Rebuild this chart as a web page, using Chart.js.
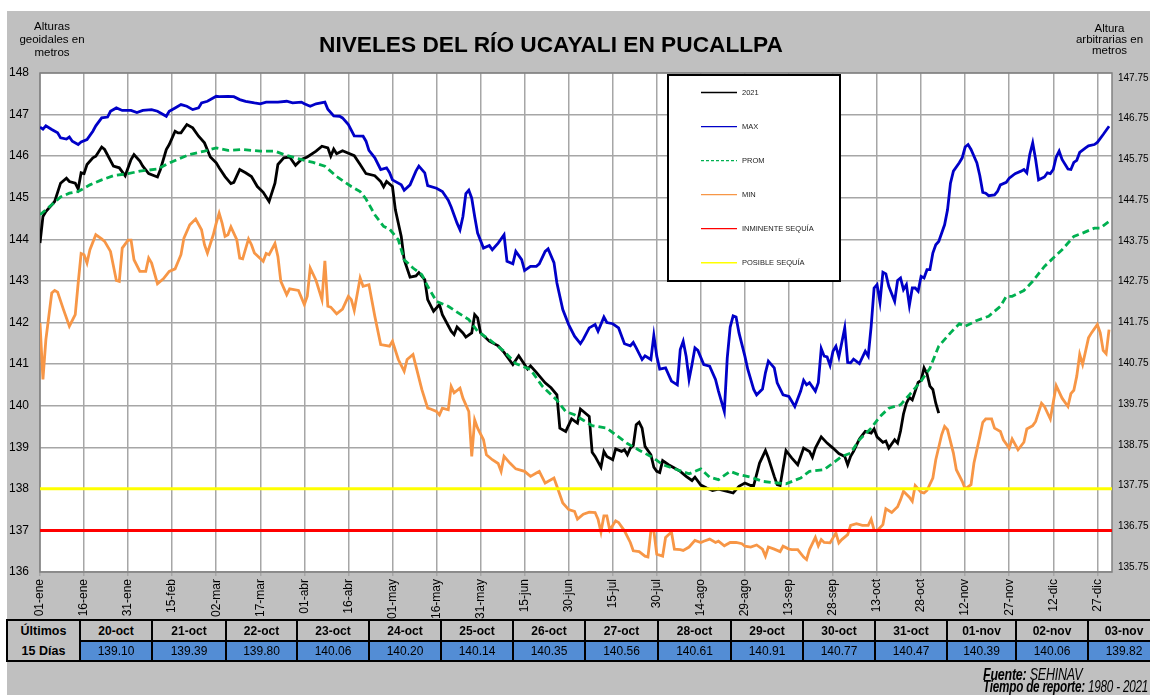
<!DOCTYPE html>
<html><head><meta charset="utf-8">
<script src="https://cdn.jsdelivr.net/npm/chart.js@4.4.1/dist/chart.umd.min.js"></script>
<style>
html,body{margin:0;padding:0;width:1150px;height:695px;overflow:hidden;background:#fff;font-family:"Liberation Sans",Arial,Helvetica,sans-serif;color:#000}
#panel{position:absolute;left:7px;top:11px;width:1143px;height:684px;background:#c0c0c0}
#chart{position:absolute;left:0;top:0}
.txt{position:absolute;white-space:nowrap}
#title{left:0;width:1102px;top:30.6px;text-align:center;font-weight:bold;font-size:22.7px;line-height:26px}
#ylabL{left:2px;width:100px;top:20.4px;text-align:center;font-size:11.5px;line-height:12.7px}
#ylabR{left:1059.5px;width:100px;top:22.8px;text-align:center;font-size:11.5px;line-height:11px}
.cell{position:absolute;box-sizing:border-box;border:2px solid #000;display:flex;align-items:center;justify-content:center;font-size:12px;white-space:nowrap;overflow:hidden}
.hdr{background:#c0c0c0;font-weight:bold}
.val{background:#538dd5}
.first{background:#c0c0c0;font-weight:bold;flex-direction:column;line-height:20px;font-size:12.5px}
.foot{position:absolute;left:983px;font-size:17px;font-style:italic;line-height:12.6px;transform-origin:0 50%;white-space:nowrap;letter-spacing:-0.3px}
</style></head>
<body>
<div id="panel"></div>
<canvas id="chart" width="1150" height="695"></canvas>
<div id="title" class="txt">NIVELES DEL RÍO UCAYALI EN PUCALLPA</div>
<div id="ylabL" class="txt">Alturas<br>geoidales en<br>metros</div>
<div id="ylabR" class="txt">Altura<br>arbitrarias en<br>metros</div>
<div id="table"></div>
<div id="foot1" class="foot" style="top:668.5px"><b>Fuente:</b> SEHINAV</div>
<div id="foot2" class="foot" style="top:681.1px"><b>Tiempo de reporte:</b> 1980 - 2021</div>
<script>
// ---------- DATA ----------
const tickDays = [0,15,30,45,60,75,90,105,120,135,150,165,180,195,210,225,240,255,270,285,300,315,330,345,360];
const tickLabels = ['01-ene','16-ene','31-ene','15-feb','02-mar','17-mar','01-abr','16-abr','01-may','16-may','31-may','15-jun','30-jun','15-jul','30-jul','14-ago','29-ago','13-sep','28-sep','13-oct','28-oct','12-nov','27-nov','12-dic','27-dic'];
const rightTicks = [135.75,136.75,137.75,138.75,139.75,140.75,141.75,142.75,143.75,144.75,145.75,146.75,147.75];

const series2021 = [[0,143.91],[1,144.55],[2,144.67],[5,144.91],[7,145.35],[9,145.47],[10,145.39],[12,145.35],[13,145.21],[14,145.60],
[15,145.58],[16,145.80],[18,145.96],[19,146.00],[21,146.22],[22,146.16],[25,145.76],[27,145.72],[29,145.53],[31,145.92],
[32,146.04],[34,145.88],[35,145.76],[37,145.58],[40,145.50],[41,145.68],[43,146.16],[44,146.28],[46,146.60],[47,146.56],
[48,146.56],[50,146.76],[52,146.68],[54,146.48],[56,146.32],[58,145.98],[60,145.84],[61,145.72],[63,145.51],[65,145.34],
[66,145.37],[68,145.68],[70,145.60],[72,145.51],[74,145.27],[76,145.13],[78,144.91],[80,145.35],[81,145.80],[83,145.96],
[85,145.98],[87,145.78],[89,145.92],[91,145.98],[94,146.12],[96,146.24],[98,146.20],[99,146.00],[100,146.17],[101,146.06],
[103,146.13],[107,146.01],[109,145.80],[111,145.58],[114,145.53],[116,145.39],[117,145.26],[118,145.39],[120,145.27],[121,144.71],
[123,144.07],[124,143.51],[126,143.09],[128,143.12],[129,143.20],[131,143.03],[132,142.55],[134,142.27],[136,142.43],[137,142.19],
[140,141.79],[141,141.71],[142,141.89],[144,141.75],[145,141.65],[147,141.75],[148,142.19],[149,142.11],[150,141.75],[153,141.55],
[156,141.44],[158,141.28],[161,140.99],[163,141.20],[166,140.88],[167,140.96],[169,140.80],[172,140.55],[174,140.43],[176,140.26],
[177,139.46],[179,139.38],[181,139.68],[183,139.58],[184,139.92],[187,139.74],[188,138.88],[189,138.78],[191,138.52],[192,138.90],
[193,138.78],[195,138.70],[196,138.96],[198,138.90],[199,138.94],[200,138.82],[201,138.98],[202,139.04],[203,139.54],[204,139.60],
[205,139.46],[206,139.02],[208,138.82],[209,138.52],[210,138.42],[211,138.39],[212,138.68],[214,138.58],[216,138.50],[218,138.42],
[220,138.30],[222,138.20],[223,138.28],[225,138.09],[227,138.02],[229,137.96],[231,137.99],[234,137.94],[236,137.90],[238,138.06],
[240,138.14],[242,138.08],[243,138.08],[245,138.62],[247,138.92],[248,138.74],[250,138.30],[251,138.10],[252,138.08],[254,138.92],
[256,138.74],[258,138.58],[260,138.98],[262,138.90],[263,138.76],[264,138.98],[266,139.25],[268,139.10],[270,138.98],[272,138.85],
[274,138.78],[275,138.58],[276,138.78],[277,138.90],[279,139.20],[281,139.38],[283,139.34],[284,139.44],[285,139.25],[287,139.12],
[288,139.15],[289,138.98],[291,139.18],[292,139.10],[293,139.39],[294,139.80],[295,140.06],[296,140.20],[297,140.14],[298,140.35],
[299,140.56],[300,140.61],[301,140.91],[302,140.77],[303,140.47],[304,140.39],[305,140.06],[306,139.82]];

const seriesMax = [[0,146.70],[1,146.65],[2,146.73],[4,146.64],[6,146.56],[7,146.44],[9,146.41],[10,146.46],[11,146.36],[13,146.28],
[14,146.34],[16,146.40],[18,146.60],[19,146.73],[21,146.92],[23,146.94],[24,147.08],[26,147.16],[28,147.10],[31,147.10],
[33,147.05],[35,147.10],[38,147.12],[40,147.08],[43,146.96],[44,147.08],[46,147.16],[48,147.24],[50,147.20],[52,147.12],
[54,147.16],[55,147.28],[57,147.32],[60,147.44],[61,147.43],[64,147.44],[66,147.43],[68,147.36],[70,147.32],[73,147.28],
[75,147.26],[77,147.30],[81,147.30],[84,147.32],[86,147.28],[89,147.30],[90,147.26],[92,147.20],[94,147.26],[97,147.30],
[98,147.13],[100,146.97],[102,146.96],[103,146.92],[105,146.76],[107,146.49],[110,146.48],[111,146.36],[112,146.14],[114,145.96],
[116,145.68],[118,145.72],[119,145.61],[120,145.43],[123,145.31],[124,145.18],[126,145.31],[128,145.64],[129,145.76],[131,145.60],
[132,145.29],[135,145.23],[137,145.15],[139,144.94],[140,144.78],[142,144.39],[143,144.23],[144,144.55],[145,145.10],[146,145.18],
[147,144.99],[148,144.55],[149,144.15],[151,143.79],[153,143.85],[154,143.75],[156,143.91],[158,144.11],[159,143.47],[161,143.41],
[162,143.71],[164,143.51],[165,143.25],[167,143.35],[169,143.35],[170,143.41],[172,143.71],[173,143.77],[175,143.44],[176,142.95],
[178,142.31],[180,141.95],[182,141.67],[184,141.49],[185,141.60],[187,141.87],[189,141.95],[190,141.79],[192,142.13],[193,142.00],
[195,141.97],[197,141.87],[199,141.49],[201,141.44],[202,141.52],[203,141.39],[205,141.11],[206,141.20],[208,141.11],[209,141.69],
[210,141.19],[211,140.88],[213,140.91],[215,140.59],[217,140.50],[218,141.35],[219,141.55],[220,141.19],[221,140.63],[222,140.99],
[223,141.39],[224,141.33],[226,140.99],[228,140.95],[230,140.63],[231,140.35],[233,139.86],[234,141.15],[235,141.89],[236,142.16],
[237,142.13],[238,141.75],[240,141.19],[241,140.87],[243,140.39],[244,140.26],[246,140.40],[247,140.79],[248,141.07],[250,140.91],
[251,140.55],[253,140.26],[255,140.22],[257,139.98],[259,140.35],[260,140.61],[261,140.50],[262,140.55],[264,140.35],[265,140.55],
[266,141.37],[267,141.19],[268,141.17],[269,140.97],[270,141.31],[271,141.43],[272,141.17],[274,141.87],[275,141.04],[276,141.03],
[277,141.12],[279,141.01],[281,141.31],[282,141.19],[283,141.91],[284,142.83],[285,142.91],[286,142.49],[287,143.21],[288,143.17],
[289,142.87],[291,142.51],[292,143.01],[293,143.07],[294,142.79],[295,142.91],[296,142.41],[297,142.83],[298,142.83],[299,142.75],
[300,143.11],[301,143.07],[302,143.27],[303,143.27],[304,143.67],[305,143.87],[306,143.95],[308,144.35],[309,144.71],[310,145.35],
[311,145.64],[313,145.84],[314,145.96],[315,146.22],[316,146.28],[317,146.16],[319,145.84],[320,145.53],[321,145.13],[322,145.11],
[323,145.05],[325,145.07],[326,145.15],[327,145.31],[329,145.37],[330,145.47],[332,145.58],[334,145.64],[335,145.68],[336,145.60],
[337,146.04],[338,146.32],[339,145.92],[340,145.43],[342,145.50],[343,145.60],[344,145.58],[345,145.68],[346,145.98],[347,146.12],
[348,145.92],[350,145.69],[351,145.68],[352,145.85],[353,145.90],[354,146.09],[356,146.20],[357,146.25],[359,146.28],[360,146.33],
[362,146.52],[364,146.72]];

const seriesProm = [[0,144.59],[4,144.83],[7,145.02],[10,145.11],[13,145.15],[17,145.31],[21,145.43],[25,145.53],[30,145.58],[34,145.64],
[40,145.69],[43,145.80],[47,145.93],[51,146.04],[56,146.12],[60,146.20],[64,146.14],[69,146.16],[75,146.12],[80,146.12],
[83,146.04],[87,145.96],[91,145.88],[93,145.85],[97,145.76],[101,145.51],[106,145.27],[109,145.15],[111,144.97],[114,144.59],
[117,144.31],[119,144.25],[122,143.99],[124,143.51],[127,143.31],[130,143.15],[132,142.87],[135,142.51],[139,142.39],[142,142.25],
[146,142.07],[149,141.79],[153,141.59],[158,141.31],[162,141.01],[167,140.87],[171,140.47],[176,140.13],[179,139.86],[182,139.78],
[185,139.65],[188,139.52],[193,139.46],[196,139.30],[200,139.09],[204,138.93],[209,138.74],[212,138.58],[217,138.46],[221,138.36],
[225,138.48],[228,138.28],[231,138.22],[235,138.42],[238,138.34],[242,138.28],[246,138.18],[251,138.14],[254,138.12],[259,138.26],
[262,138.42],[267,138.46],[270,138.62],[273,138.78],[276,138.86],[279,139.18],[283,139.46],[286,139.74],[289,139.94],[293,140.02],
[296,140.26],[300,140.59],[303,140.90],[306,141.43],[310,141.75],[313,141.97],[315,141.91],[319,142.05],[323,142.15],[327,142.39],
[329,142.63],[331,142.63],[335,142.77],[338,142.99],[342,143.35],[345,143.55],[348,143.75],[352,144.07],[355,144.15],[359,144.27],
[361,144.27],[364,144.43]];

const seriesMin = [[0,141.99],[1,140.63],[2,141.59],[4,142.71],[5,142.77],[6,142.73],[8,142.31],[10,141.91],[12,142.19],[13,142.95],
[14,143.66],[15,143.63],[16,143.43],[17,143.75],[19,144.11],[21,144.01],[22,143.95],[24,143.71],[26,143.01],[27,142.99],
[28,143.79],[30,143.98],[31,143.98],[32,143.51],[34,143.23],[36,143.23],[37,143.55],[38,143.43],[40,142.93],[42,143.05],
[44,143.23],[46,143.29],[48,143.63],[49,144.03],[51,144.35],[53,144.49],[55,144.23],[56,143.87],[57,143.67],[59,144.11],
[60,144.39],[61,144.63],[62,144.39],[63,144.07],[64,144.11],[65,144.30],[67,143.99],[68,143.55],[69,143.53],[71,144.01],
[72,143.87],[73,143.67],[76,143.47],[77,143.66],[78,143.63],[80,143.90],[81,143.59],[82,142.99],[84,142.67],[85,142.81],
[88,142.77],[90,142.43],[91,142.63],[92,143.31],[94,143.01],[96,142.55],[97,143.48],[98,142.39],[99,142.37],[101,142.21],
[103,142.32],[105,142.63],[106,142.55],[107,142.29],[109,143.07],[110,142.87],[112,142.91],[114,142.15],[116,141.47],[119,141.43],
[120,141.55],[122,141.11],[124,140.83],[125,141.11],[127,141.23],[128,140.95],[130,140.39],[132,139.94],[133,139.92],[135,139.86],
[136,139.78],[137,139.94],[139,139.90],[140,140.46],[141,140.31],[143,140.42],[144,140.18],[146,139.86],[147,138.78],[148,139.66],
[149,139.46],[151,139.18],[152,138.82],[154,138.70],[156,138.61],[157,138.42],[158,138.78],[160,138.62],[162,138.48],[165,138.42],
[167,138.30],[169,138.38],[170,138.42],[172,138.14],[175,138.26],[176,138.06],[178,137.66],[180,137.50],[182,137.46],[183,137.27],
[185,137.39],[187,137.44],[189,137.43],[190,137.27],[191,136.96],[192,137.35],[193,137.35],[194,137.01],[196,137.23],[197,137.19],
[199,136.99],[201,136.71],[202,136.51],[204,136.49],[206,136.38],[207,136.36],[208,136.99],[209,136.99],[210,136.43],[212,136.38],
[213,136.83],[215,136.96],[216,136.55],[218,136.54],[219,136.52],[221,136.60],[223,136.76],[225,136.71],[226,136.74],[228,136.79],
[230,136.71],[231,136.74],[233,136.63],[235,136.71],[237,136.71],[239,136.68],[240,136.62],[242,136.60],[244,136.65],[246,136.55],
[247,136.38],[248,136.60],[250,136.55],[252,136.49],[253,136.62],[255,136.55],[256,136.54],[258,136.54],[260,136.36],[261,136.30],
[262,136.54],[264,136.83],[265,136.63],[266,136.78],[267,136.71],[269,136.70],[271,136.94],[272,136.70],[273,136.78],[275,136.90],
[276,137.12],[278,137.16],[280,137.12],[282,137.12],[283,137.27],[284,137.01],[285,136.99],[287,137.14],[288,137.52],[290,137.43],
[292,137.57],[293,137.74],[294,137.94],[296,137.80],[297,137.70],[298,138.08],[300,137.92],[301,137.90],[302,137.96],[304,138.26],
[305,138.70],[307,139.30],[308,139.50],[309,139.42],[311,138.86],[312,138.46],[314,138.18],[315,138.00],[317,138.10],[318,138.62],
[320,139.26],[321,139.60],[322,139.68],[324,139.68],[325,139.46],[327,139.38],[328,139.18],[330,138.98],[331,139.20],[333,138.94],
[335,139.12],[336,139.44],[338,139.52],[339,139.62],[341,140.06],[342,139.98],[344,139.68],[346,140.48],[348,140.18],[350,139.98],
[351,140.29],[352,140.37],[353,140.71],[354,141.23],[355,140.99],[357,141.63],[358,141.75],[360,141.95],[361,141.75],[362,141.33],
[363,141.25],[364,141.83]];

const inminenteSequia = 137;
const posibleSequia = 138;

const lastDates = ['20-oct','21-oct','22-oct','23-oct','24-oct','25-oct','26-oct','27-oct','28-oct','29-oct','30-oct','31-oct','01-nov','02-nov','03-nov'];
const lastLevels = ['139.10','139.39','139.80','140.06','140.20','140.14','140.35','140.56','140.61','140.91','140.77','140.47','140.39','140.06','139.82'];

// ---------- TABLE ----------
const colEdges = [7,80,152,226,297,369,441,513,585,658,731,803,875,947,1016,1088,1160];
(function buildTable(){
  const t = document.getElementById('table');
  const mk = (cls, x0, x1, y0, y1, html) => {
    const d = document.createElement('div');
    d.className = 'cell ' + cls;
    d.style.left = (x0 - 1) + 'px';
    d.style.width = (x1 - x0 + 2) + 'px';
    d.style.top = (y0 - 1) + 'px';
    d.style.height = (y1 - y0 + 2) + 'px';
    d.innerHTML = html;
    t.appendChild(d);
  };
  mk('first', colEdges[0], colEdges[1], 620, 661, '<span>Últimos</span><span>15 Días</span>');
  lastDates.forEach((d, i) => {
    mk('hdr', colEdges[i+1], colEdges[i+2], 620, 641, d);
    mk('val', colEdges[i+1], colEdges[i+2], 641, 661, lastLevels[i]);
  });
})();

// footer compression (condensed look)
[['foot1',99],['foot2',165]].forEach(([id,w]) => {
  const el = document.getElementById(id);
  el.style.transform = 'scaleX(' + (w / el.offsetWidth) + ')';
});

// ---------- CHART ----------
Chart.defaults.font.family = "'Liberation Sans', Arial, Helvetica, sans-serif";
Chart.defaults.color = '#000';

const toXY = s => s.map(([d, v]) => ({x: d, y: v}));
const flat = v => [{x: 0, y: v}, {x: 365, y: v}];

const C = {black:'#000000', blue:'#0000c8', green:'#00b050', orange:'#f79646', red:'#ff0000', yellow:'#ffff00'};

const legendOrder = [
  {label:'2021', color:C.black},
  {label:'MAX', color:C.blue},
  {label:'PROM', color:C.green, dash:[3,2]},
  {label:'MIN', color:C.orange},
  {label:'INMINENTE SEQUÍA', color:C.red},
  {label:'POSIBLE SEQUÍA', color:C.yellow}
];

const plotBg = {
  id:'plotBg',
  beforeDraw(chart){
    const a = chart.chartArea, ctx = chart.ctx;
    ctx.save(); ctx.fillStyle = '#fff';
    ctx.fillRect(a.left, a.top, a.right - a.left, a.bottom - a.top);
    ctx.restore();
  },
  beforeDatasetsDraw(chart){
    const a = chart.chartArea, ctx = chart.ctx;
    ctx.save(); ctx.strokeStyle = '#808080'; ctx.lineWidth = 1.5;
    ctx.strokeRect(a.left, a.top, a.right - a.left, a.bottom - a.top);
    ctx.restore();
  }
};

const boxLegend = {
  id:'boxLegend',
  afterDraw(chart){
    const ctx = chart.ctx;
    ctx.save();
    ctx.fillStyle = '#fff';
    ctx.fillRect(668, 75, 172, 206);
    ctx.lineWidth = 2; ctx.strokeStyle = '#000';
    ctx.strokeRect(668, 75, 172, 206);
    legendOrder.forEach((it, i) => {
      const y = 92.5 + i * 34.05;
      ctx.beginPath();
      ctx.setLineDash(it.dash || []);
      ctx.strokeStyle = it.color; ctx.lineWidth = 1.3;
      ctx.moveTo(701, y); ctx.lineTo(737, y); ctx.stroke();
      ctx.setLineDash([]);
      ctx.fillStyle = '#222';
      ctx.font = "7.5px 'Liberation Sans', Arial, sans-serif";
      ctx.textBaseline = 'middle'; ctx.textAlign = 'left';
      ctx.fillText(it.label, 742, y + 0.5);
    });
    ctx.restore();
  }
};

const lineDs = (label, data, color, width, dash) => ({
  label, data, borderColor: color, backgroundColor: color, borderWidth: width,
  borderDash: dash || [], pointRadius: 0, pointHoverRadius: 0, tension: 0, fill: false,
  yAxisID: 'y', xAxisID: 'x'
});

new Chart(document.getElementById('chart'), {
  type: 'line',
  data: {
    datasets: [
      lineDs('POSIBLE SEQUÍA', flat(posibleSequia), C.yellow, 3),
      lineDs('INMINENTE SEQUÍA', flat(inminenteSequia), C.red, 3),
      lineDs('MIN', toXY(seriesMin), C.orange, 2.8),
      lineDs('PROM', toXY(seriesProm), C.green, 2.8, [7,4]),
      lineDs('MAX', toXY(seriesMax), C.blue, 2.8),
      lineDs('2021', toXY(series2021), C.black, 2.8)
    ]
  },
  options: {
    responsive: false,
    animation: false,
    events: [],
    layout: {padding: {top: 73, left: 0, right: 0, bottom: 0}},
    plugins: {legend: {display: false}, tooltip: {enabled: false}, title: {display: false}},
    scales: {
      x: {
        type: 'linear', min: 0, max: 365,
        afterBuildTicks: s => { s.ticks = tickDays.map(v => ({value: v})); },
        afterFit: s => { s.height = 123; },
        ticks: {autoSkip: false, maxRotation: 90, minRotation: 90, padding: 3,
          font: {size: 12}, color: '#000',
          callback: (v, i) => tickLabels[i]},
        grid: {color: '#a6a6a6', lineWidth: 1.5, tickLength: 4, drawTicks: true},
        border: {display: false}
      },
      y: {
        type: 'linear', position: 'left', min: 136, max: 148,
        afterFit: s => { s.width = 40; },
        ticks: {stepSize: 1, padding: 11, font: {size: 12}, color: '#000', callback: v => String(v)},
        grid: {color: '#a6a6a6', lineWidth: 1.5, drawTicks: false},
        border: {display: false}
      },
      y2: {
        type: 'linear', position: 'right', min: 135.63, max: 147.87,
        afterBuildTicks: s => { s.ticks = rightTicks.map(v => ({value: v})); },
        afterFit: s => { s.width = 38; },
        ticks: {padding: 6, font: {size: 10}, color: '#000', callback: v => v.toFixed(2)},
        grid: {drawOnChartArea: false, drawTicks: false},
        border: {display: false}
      }
    }
  },
  plugins: [plotBg, boxLegend]
});
</script>
</body></html>
